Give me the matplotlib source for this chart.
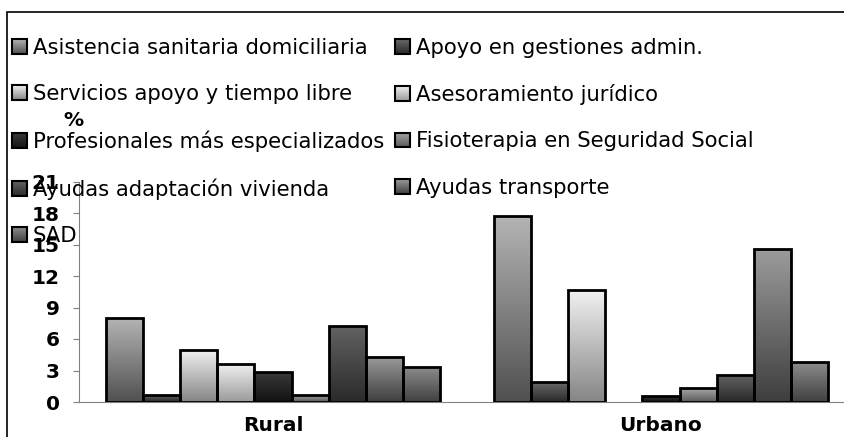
import numpy as np
import matplotlib
matplotlib.use('Agg')
import matplotlib.pyplot as plt
from matplotlib.colors import LinearSegmentedColormap
from matplotlib.patches import Patch, Rectangle
from matplotlib.image import BboxImage
from matplotlib.transforms import Bbox, TransformedBbox
from matplotlib.legend_handler import HandlerBase

plt.rcParams['font.family'] = 'DejaVu Sans'

# data
groups = ['Rural', 'Urbano']
series = ['Asistencia sanitaria domiciliaria', 'Apoyo en gestiones admin.',
          'Servicios apoyo y tiempo libre', 'Asesoramiento jurídico',
          'Profesionales más especializados', 'Fisioterapia en Seguridad Social',
          'Ayudas adaptación vivienda', 'Ayudas transporte', 'SAD']
rural = [8.0, 0.7, 5.0, 3.6, 2.9, 0.7, 7.2, 4.3, 3.3]
urbano = [17.7, 1.9, 10.7, np.nan, 0.6, 1.3, 2.6, 14.6, 3.8]
yticks = [0, 3, 6, 9, 12, 15, 18, 21]

# gradient colours per series (top, bottom)
grads = [('#b4b4b4', '#505050'), ('#6a6a6a', '#282828'), ('#f2f2f2', '#858585'),
         ('#f0f0f0', '#9a9a9a'), ('#3a3a3a', '#121212'), ('#a8a8a8', '#5a5a5a'),
         ('#626262', '#2a2a2a'), ('#9c9c9c', '#3e3e3e'), ('#8c8c8c', '#404040')]
cmaps = [LinearSegmentedColormap.from_list('g%d' % i, [g[1], g[0]]) for i, g in enumerate(grads)]
grad = np.linspace(0, 1, 256).reshape(-1, 1)


class GradHandler(HandlerBase):
    def __init__(self, cmap):
        super().__init__()
        self.cmap = cmap

    def create_artists(self, legend, orig_handle, xdescent, ydescent, width, height,
                       fontsize, trans):
        bb = TransformedBbox(Bbox.from_bounds(-xdescent, -ydescent, width, height), trans)
        img = BboxImage(bb, cmap=self.cmap, origin='lower', interpolation='bilinear')
        img.set_data(grad)
        r = Rectangle((-xdescent, -ydescent), width, height, facecolor='none',
                      edgecolor='black', linewidth=1.5, transform=trans)
        return [img, r]


fig = plt.figure(figsize=(8.45, 4.37), dpi=100)
ax = fig.add_axes([79/845, 35/437, 776/845, 220.5/437])

n = len(series)
w = 0.861 / n
x = np.arange(len(groups))
vals = np.array([rural, urbano])

for i in range(n):
    xs = x - 0.861/2 + w*(i + 0.5)
    bars = ax.bar(xs, vals[:, i], width=w, facecolor='none', edgecolor='black',
                  linewidth=2.0, zorder=3)
    for b in bars:
        h = b.get_height()
        if not np.isfinite(h):
            continue
        bx, by = b.get_xy()
        im = ax.imshow(grad, cmap=cmaps[i], origin='lower', aspect='auto',
                       extent=[bx, bx + b.get_width(), by, by + h], zorder=2)
        im.set_clip_path(b)

ax.set_xlim(-0.5, 1.5)
ax.set_ylim(0, 21)
ax.set_yticks(yticks)
ax.set_xticks(x)
ax.set_xticklabels(groups, fontsize=14.5, fontweight='bold')
ax.tick_params(axis='y', labelsize=14.5, length=4, color='#808080', pad=10)
ax.tick_params(axis='x', length=0, pad=10)
for lab in ax.get_yticklabels():
    lab.set_fontweight('bold')
for s in ['top', 'right']:
    ax.spines[s].set_visible(False)
ax.spines['left'].set_color('#808080')
ax.spines['bottom'].set_color('#808080')

fig.text(73/845, 1 - 120/437, '%', fontsize=14.5, fontweight='bold',
         ha='center', va='center')

# outer border
fig.patches.append(Rectangle((7/845, -0.1), 1.2, 1.1 - 12/437, transform=fig.transFigure,
                             fill=False, edgecolor='black', linewidth=1.2))

handles = [Patch(label=s) for s in series]
hmap = {handles[i]: GradHandler(cmaps[i]) for i in range(n)}
order = [0, 2, 4, 6, 8, 1, 3, 5, 7]
leg = fig.legend([handles[k] for k in order], [series[k] for k in order],
                 handler_map=hmap,
                 loc='upper left', bbox_to_anchor=(12/845, 1 - 38/437), ncol=2,
                 frameon=False, fontsize=15.2, handlelength=0.7, handleheight=0.7,
                 handletextpad=0.3, columnspacing=0.5, labelspacing=1.24,
                 borderpad=0, borderaxespad=0)

fig.savefig('out.png', dpi=100)
